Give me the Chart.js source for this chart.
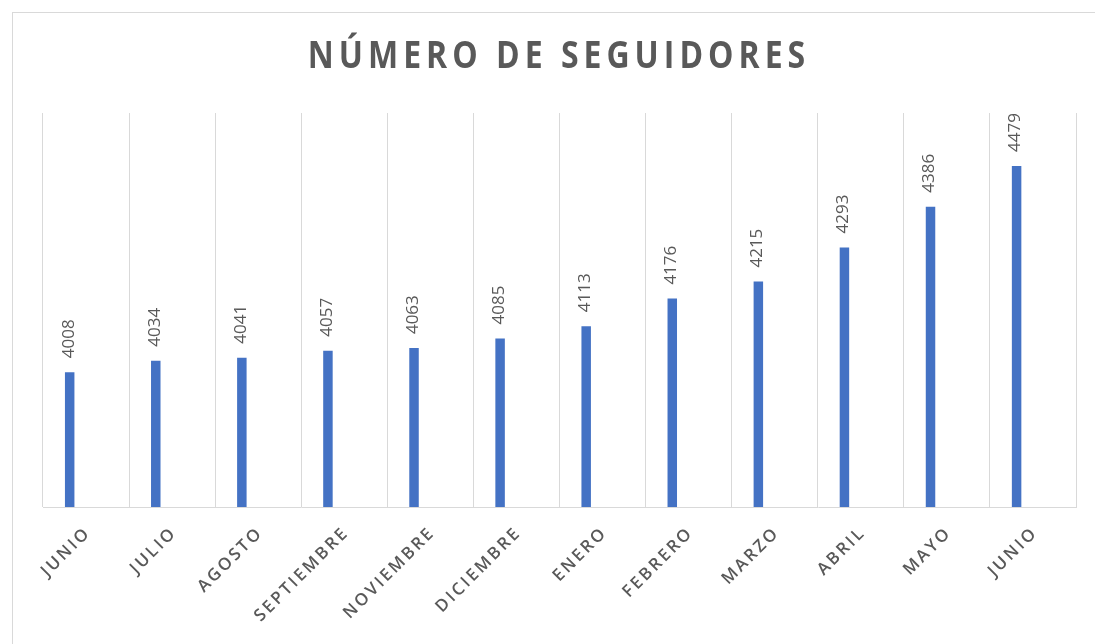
<!DOCTYPE html>
<html>
<head>
<meta charset="utf-8">
<script src="https://cdn.jsdelivr.net/npm/chart.js@4.4.1/dist/chart.umd.min.js"></script>
<style>
  html, body { margin: 0; padding: 0; background: #fff; }
  #wrap { width: 1095px; height: 644px; position: relative; }
</style>
</head>
<body>
<div id="wrap"><canvas id="grafico"></canvas></div>
<script>
// Datos
var meses = ["JUNIO", "JULIO", "AGOSTO", "SEPTIEMBRE", "NOVIEMBRE", "DICIEMBRE",
             "ENERO", "FEBRERO", "MARZO", "ABRIL", "MAYO", "JUNIO"];
var seguidores = [4008, 4034, 4041, 4057, 4063, 4085, 4113, 4176, 4215, 4293, 4386, 4479];
var titulo = "NÚMERO DE SEGUIDORES";
var ejeMin = 3700;
var ejeMax = 4600;

var GRIS = "#595959";

// Marco, título, etiquetas de datos y del eje X (con espaciado de letras)
var extras = {
    id: "extras",
    beforeDraw: function (chart) {
        var ctx = chart.ctx;
        ctx.save();
        ctx.strokeStyle = "#d9d9d9";
        ctx.lineWidth = 1;
        ctx.strokeRect(12.5, 12.5, 1200, 800);
        ctx.restore();
    },
    afterDraw: function (chart) {
        var ctx = chart.ctx;
        var x = chart.scales.x;
        var meta = chart.getDatasetMeta(0);

        // título
        ctx.save();
        ctx.fillStyle = GRIS;
        ctx.font = "bold 32px 'Open Sans'";
        ctx.letterSpacing = "5px";
        ctx.textAlign = "center";
        ctx.textBaseline = "middle";
        ctx.translate(559, 57);
        ctx.scale(1, 1.17);
        ctx.fillText(titulo, 0, 0);
        ctx.restore();

        // valores encima de las barras
        meta.data.forEach(function (bar, i) {
            ctx.save();
            ctx.fillStyle = GRIS;
            ctx.font = "17px 'Open Sans'";
            ctx.textAlign = "left";
            ctx.textBaseline = "middle";
            ctx.translate(bar.x - 1, bar.y - 14);
            ctx.rotate(-Math.PI / 2);
            ctx.fillText(String(seguidores[i]), 0, 0);
            ctx.restore();
        });

        // etiquetas del eje X
        meses.forEach(function (m, i) {
            ctx.save();
            ctx.fillStyle = GRIS;
            ctx.font = "600 17px 'Open Sans'";
            ctx.letterSpacing = "2.5px";
            ctx.textAlign = "right";
            ctx.textBaseline = "middle";
            ctx.translate(x.getPixelForValue(i) + 2, chart.chartArea.bottom + 23);
            ctx.rotate(-Math.PI / 4);
            ctx.fillText(m, 0, 0);
            ctx.restore();
        });
    }
};

new Chart(document.getElementById("grafico"), {
    type: "bar",
    data: {
        labels: meses,
        datasets: [
            { label: "Seguidores", data: seguidores, backgroundColor: "#4472C4",
              categoryPercentage: 0.76, barPercentage: 0.29 },
            { label: "", data: [], categoryPercentage: 0.76, barPercentage: 0.29 }
        ]
    },
    options: {
        responsive: true,
        maintainAspectRatio: false,
        animation: false,
        layout: { padding: { left: 43, right: 19, top: 113, bottom: 137 } },
        plugins: { legend: { display: false }, tooltip: { enabled: false }, title: { display: false } },
        scales: {
            x: {
                ticks: { display: false },
                grid: { color: "#d9d9d9", drawTicks: false, offset: true },
                border: { color: "#d9d9d9" }
            },
            y: {
                display: false,
                min: ejeMin,
                max: ejeMax
            }
        }
    },
    plugins: [extras]
});
</script>
</body>
</html>
